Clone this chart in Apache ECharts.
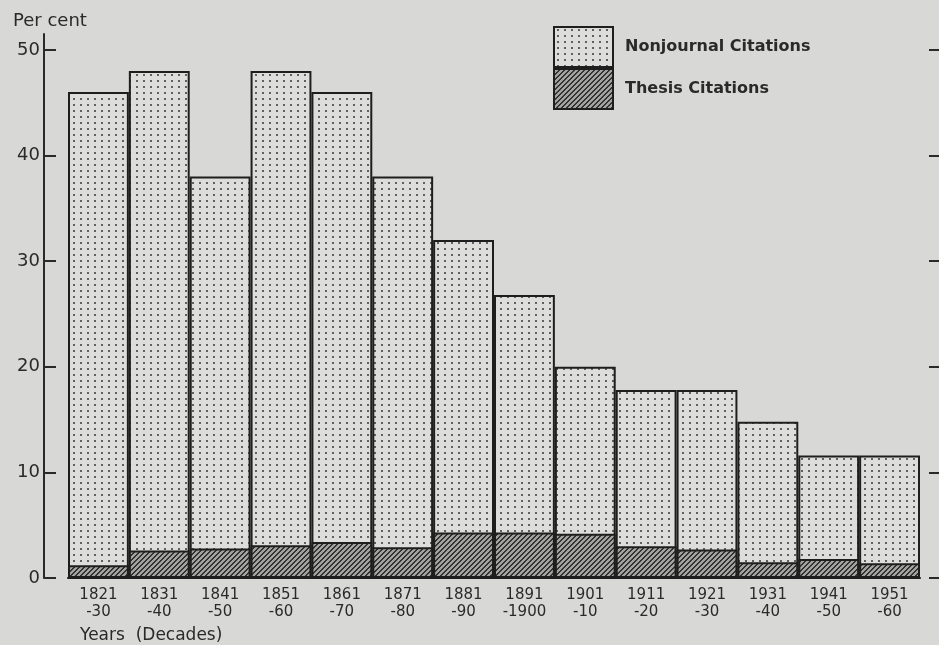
<!DOCTYPE html>
<html>
<head>
<meta charset="utf-8">
<script src="https://cdn.jsdelivr.net/npm/echarts@6/dist/echarts.min.js"></script>
<style>
html,body{margin:0;padding:0;background:#d8d8d6;}
#c{width:939px;height:645px;}
</style>
</head>
<body>
<div id="c"></div>
<script>
const categories = ['1821\n-30','1831\n-40','1841\n-50','1851\n-60','1861\n-70','1871\n-80','1881\n-90','1891\n-1900','1901\n-10','1911\n-20','1921\n-30','1931\n-40','1941\n-50','1951\n-60'];
const nonjournalTotal = [46, 48, 38, 48, 46, 38, 32, 26.8, 20, 17.8, 17.8, 14.8, 11.6, 11.6];
const thesis = [1.2, 2.6, 2.8, 3.1, 3.4, 2.9, 4.3, 4.3, 4.2, 3.0, 2.7, 1.5, 1.8, 1.4];
const tickValues = [0, 10, 20, 30, 40, 50];

function dotPattern() {
  const c = document.createElement('canvas');
  c.width = 7; c.height = 6;
  const g = c.getContext('2d');
  g.fillStyle = '#dddddb'; g.fillRect(0, 0, 7, 6);
  g.fillStyle = '#606060'; g.fillRect(3, 2, 2, 2);
  return c;
}
function hatchPattern() {
  const s = 5;
  const c = document.createElement('canvas');
  c.width = s; c.height = s;
  const g = c.getContext('2d');
  g.fillStyle = '#a2a2a0'; g.fillRect(0, 0, s, s);
  g.fillStyle = '#333333';
  for (let x = 0; x < s; x++) for (let y = 0; y < s; y++) {
    if (((x + y) % s) < 2) g.fillRect(x, y, 1, 1);
  }
  return c;
}
const dots = {image: dotPattern(), repeat: 'repeat'};
const hatch = {image: hatchPattern(), repeat: 'repeat'};

const chart = echarts.init(document.getElementById('c'));
const txt = '#2a2a2a';
const font = 'DejaVu Sans';
chart.setOption({
  backgroundColor: '#d8d8d6',
  animation: false,
  textStyle: {fontFamily: font, color: txt},
  grid: {left: 68, right: 19, top: 34, bottom: 67},
  legend: {
    left: 553, top: 26, padding: 0, orient: 'vertical', itemWidth: 59, itemHeight: 40, itemGap: 0,
    icon: 'rect',
    itemStyle: {borderColor: '#1e1e1e', borderWidth: 2},
    textStyle: {fontFamily: font, fontSize: 16, fontWeight: 'bold', color: txt, padding: [0, 0, 0, 7]},
    data: ['Nonjournal Citations', 'Thesis Citations']
  },
  xAxis: {
    type: 'category', data: categories,
    axisLine: {show: true, lineStyle: {color: '#1e1e1e', width: 2}},
    axisTick: {show: false},
    axisLabel: {interval: 0, color: txt, fontFamily: font, fontSize: 15, lineHeight: 17, margin: 9}
  },
  yAxis: [{
    type: 'value', min: 0, max: 51.5, offset: 24,
    axisLine: {show: true, lineStyle: {color: '#2a2a2a', width: 2}},
    axisTick: {show: true, inside: true, length: 12, customValues: tickValues, lineStyle: {color: '#2a2a2a', width: 2}},
    axisLabel: {customValues: tickValues, color: txt, fontFamily: font, fontSize: 18, margin: 4},
    splitLine: {show: false}
  }, {
    type: 'value', min: 0, max: 51.5, position: 'right', offset: 9,
    axisLine: {show: false},
    axisTick: {show: true, inside: false, length: 10, customValues: tickValues, lineStyle: {color: '#2a2a2a', width: 2}},
    axisLabel: {show: false},
    splitLine: {show: false}
  }],
  series: [{
    name: 'Nonjournal Citations', type: 'bar', data: nonjournalTotal,
    barWidth: '100%', barGap: '-100%',
    itemStyle: {color: dots, borderColor: '#1e1e1e', borderWidth: 2}
  }, {
    name: 'Thesis Citations', type: 'bar', data: thesis,
    barWidth: '100%', barGap: '-100%',
    itemStyle: {color: hatch, borderColor: '#1e1e1e', borderWidth: 2}
  }],
  graphic: [
    {type: 'text', left: 13, top: 12, style: {text: 'Per cent', font: '18px "DejaVu Sans"', fill: txt}},
    {type: 'text', left: 80, top: 627, style: {text: 'Years  (Decades)', font: '17px "DejaVu Sans"', fill: txt}}
  ]
});
</script>
</body>
</html>
